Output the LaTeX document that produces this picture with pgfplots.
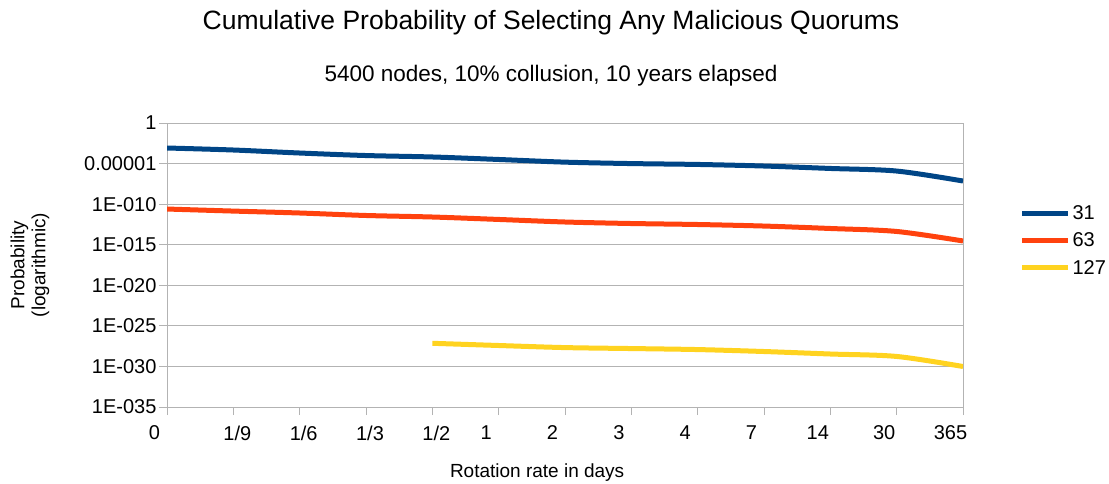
\documentclass[border=0pt]{standalone}
\usepackage{pgfplots}
\pgfplotsset{compat=1.18}
\usepackage{fontspec}
\setmainfont{Liberation Sans}
\definecolor{lo1}{HTML}{004586}
\definecolor{lo2}{HTML}{FF420E}
\definecolor{lo3}{HTML}{FFD320}
\definecolor{gridc}{HTML}{B3B3B3}
\newcommand{\nl}[1]{#1\hspace*{25pt}}
\newcommand{\fr}[1]{\hspace*{8pt}#1}
\begin{document}
\begin{tikzpicture}
\path[use as bounding box] (0,0) rectangle (1109pt,483pt);
\node[font=\fontsize{26.5}{30}\selectfont] at (551pt,460pt) {Cumulative Probability of Selecting Any Malicious Quorums};
\node[font=\fontsize{22.5}{26}\selectfont] at (551pt,407pt) {5400 nodes, 10\% collusion, 10 years elapsed};
\begin{axis}[
    at={(167pt,76pt)}, anchor=south west,
    scale only axis,
    width=796pt, height=284pt,
    ymode=log,
    xmin=0, xmax=12,
    ymin=1e-35, ymax=1,
    xtick={0,...,12},
    xticklabels={\nl{0},\fr{1/9},\fr{1/6},\fr{1/3},\fr{1/2},\nl{1},\nl{2},\nl{3},\nl{4},\nl{7},\nl{14},\nl{30},\nl{365}},
    ytick={1e-35,1e-30,1e-25,1e-20,1e-15,1e-10,1e-5,1},
    yticklabels={1E-035,1E-030,1E-025,1E-020,1E-015,1E-010,0.00001,1},
    minor ytick={},
    xtick pos=left, ytick pos=left,
    tick align=outside,
    major tick length=8pt,
    tick style={gridc, line width=1pt},
    axis line style={gridc, line width=1pt},
    ymajorgrids,
    grid style={gridc, line width=1pt},
    tick label style={font=\fontsize{20}{22}\selectfont},
    xticklabel style={yshift=-7pt},
    yticklabel style={xshift=1pt},
    xlabel={Rotation rate in days},
    xlabel style={font=\fontsize{19}{21}\selectfont, at={(axis description cs:0.465,0)}, anchor=north, yshift=-53pt},
    legend style={at={(axis description cs:1.067,0.725)}, anchor=north west, draw=none, fill=none,
        font=\fontsize{20}{22}\selectfont, row sep=8pt},
    legend cell align=left,
    legend image code/.code={\draw[#1, line width=5pt] (0pt,0pt) -- (46pt,0pt);},
    every axis plot/.append style={line width=5pt, smooth},
]
\addplot[lo1] coordinates {
 (0,8.3e-4) (1,4.7e-4) (2,2.0e-4) (3,9.8e-5) (4,6.5e-5) (5,3.2e-5) (6,1.5e-5)
 (7,1.0e-5) (8,7.8e-6) (9,5.0e-6) (10,2.5e-6) (11,1.2e-6) (12,7.1e-8)
};
\addlegendentry{31}
\addplot[lo2] coordinates {
 (0,2.5e-11) (1,1.4e-11) (2,8.1e-12) (3,4.0e-12) (4,2.6e-12) (5,1.3e-12) (6,6.3e-13)
 (7,4.1e-13) (8,3.1e-13) (9,2.0e-13) (10,1.0e-13) (11,4.3e-14) (12,2.9e-15)
};
\addlegendentry{63}
\addplot[lo3] coordinates {
 (4,7.1e-28) (5,3.8e-28) (6,2.1e-28) (7,1.6e-28) (8,1.2e-28) (9,6.9e-29)
 (10,3.4e-29) (11,1.7e-29) (12,9.8e-31)
};
\addlegendentry{127}
\end{axis}
\node[rotate=90, align=center, font=\fontsize{19}{21}\selectfont] at (30pt,218pt) {Probability\\(logarithmic)};
\end{tikzpicture}
\end{document}
